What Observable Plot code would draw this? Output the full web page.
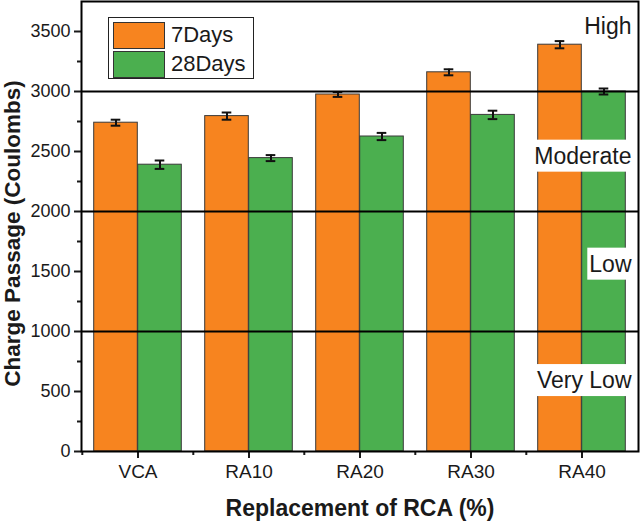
<!DOCTYPE html>
<html>
<head>
<meta charset="utf-8">
<script src="https://cdn.jsdelivr.net/npm/d3@7"></script>
<script src="https://cdn.jsdelivr.net/npm/@observablehq/plot@0.6"></script>
<style>
  html, body { margin: 0; padding: 0; background: #fff; }
  #wrap { position: relative; width: 640px; height: 523px; font-family: "Liberation Sans", Arial, sans-serif; }
  #legend { position: absolute; left: 108px; top: 17px; width: 144px; height: 60px; border: 1px solid #222; background: #fff; z-index: 2; }
  .lrow { position: absolute; left: 4px; height: 26px; display: flex; align-items: center; }
  .sw { width: 50px; height: 25px; border: 1px solid #333; margin-right: 6px; }
  .lt { font-size: 22px; color: #1a1a1a; }
</style>
</head>
<body>
<div id="wrap"><div id="legend"></div></div>
<script>
const categories = ["VCA", "RA10", "RA20", "RA30", "RA40"];
const days7 = [2740, 2795, 2975, 3160, 3390];
const days28 = [2390, 2445, 2625, 2805, 3000];
const err7 = [25, 30, 20, 25, 30];
const err28 = [35, 25, 30, 35, 25];
const seriesNames = ["7Days", "28Days"];
const seriesColors = ["#F7841F", "#4BAF4F"];
const yTicks = [0, 500, 1000, 1500, 2000, 2500, 3000, 3500];
const yMinorTicks = [250, 750, 1250, 1750, 2250, 2750, 3250];
const zoneLines = [1000, 2000, 3000];
const zoneLabels = ["Very Low", "Low", "Moderate", "High"];
const zoneLabelY = [590, 1560, 2460, 3540];

const W = 640, H = 523, mL = 81, mR = 2, mT = 1, mB = 72;
const bw = (W - mL - mR) / categories.length;
const half = bw / 2;
const barW = 44;
const outer = half - barW;
const capHalf = 5;

const rows7 = categories.map((c, i) => ({cat: c, v: days7[i], e: err7[i]}));
const rows28 = categories.map((c, i) => ({cat: c, v: days28[i], e: err28[i]}));
const zones = zoneLabels.map((t, i) => ({t, y: zoneLabelY[i]}));

const chart = Plot.plot({
  width: W, height: H,
  marginLeft: mL, marginRight: mR, marginTop: mT, marginBottom: mB,
  style: {fontFamily: '"Liberation Sans", Arial, sans-serif', color: "#1a1a1a", background: "#fff"},
  x: {type: "band", domain: categories, padding: 0},
  y: {domain: [0, 3750]},
  marks: [
    Plot.barY(rows7, {x: "cat", y: "v", fill: seriesColors[0], stroke: "#3a3a3a", strokeWidth: 1, insetLeft: outer, insetRight: half}),
    Plot.barY(rows28, {x: "cat", y: "v", fill: seriesColors[1], stroke: "#3a3a3a", strokeWidth: 1, insetLeft: half, insetRight: outer}),
    Plot.ruleX(rows7, {x: "cat", y1: d => d.v - d.e, y2: d => d.v + d.e, dx: -barW / 2, stroke: "#111", strokeWidth: 2}),
    Plot.ruleX(rows28, {x: "cat", y1: d => d.v - d.e, y2: d => d.v + d.e, dx: barW / 2, stroke: "#111", strokeWidth: 2}),
    Plot.tickY(rows7, {x: "cat", y: d => d.v - d.e, stroke: "#111", strokeWidth: 2, insetLeft: half - barW / 2 - capHalf, insetRight: half + barW / 2 - capHalf}),
    Plot.tickY(rows7, {x: "cat", y: d => d.v + d.e, stroke: "#111", strokeWidth: 2, insetLeft: half - barW / 2 - capHalf, insetRight: half + barW / 2 - capHalf}),
    Plot.tickY(rows28, {x: "cat", y: d => d.v - d.e, stroke: "#111", strokeWidth: 2, insetLeft: half + barW / 2 - capHalf, insetRight: half - barW / 2 - capHalf}),
    Plot.tickY(rows28, {x: "cat", y: d => d.v + d.e, stroke: "#111", strokeWidth: 2, insetLeft: half + barW / 2 - capHalf, insetRight: half - barW / 2 - capHalf}),
    Plot.ruleY(zoneLines, {stroke: "#000", strokeWidth: 2}),
    Plot.text(zones, {y: "y", text: "t", frameAnchor: "right", dx: -7, textAnchor: "end", fontSize: 23, fill: "#1a1a1a"}),
    Plot.axisY(yTicks, {tickSize: 7, tickPadding: 4, fontSize: 18, strokeWidth: 2, tickFormat: d => String(d), label: null}),
    Plot.axisY(yMinorTicks, {tickSize: 4, strokeWidth: 2, tickFormat: () => "", label: null}),
    Plot.axisX(categories, {tickSize: 7, tickPadding: 6, fontSize: 19, strokeWidth: 2, label: null}),
    Plot.axisX(categories, {tickSize: 4, strokeWidth: 2, dx: -half, tickFormat: () => "", label: null}),
    Plot.text(["Charge Passage (Coulombs)"], {frameAnchor: "left", dx: -69, dy: 7, rotate: -90, fontSize: 22.5, fontWeight: "bold", fill: "#1a1a1a", textAnchor: "middle", lineAnchor: "middle"}),
    Plot.text(["Replacement of RCA (%)"], {frameAnchor: "bottom", dy: 57, fontSize: 23, fontWeight: "bold", fill: "#1a1a1a", textAnchor: "middle", lineAnchor: "middle"}),
    Plot.frame({stroke: "#000", strokeWidth: 2})
  ]
});

const wrap = document.getElementById("wrap");
chart.style.position = "absolute";
chart.style.left = "0";
chart.style.top = "0";
wrap.insertBefore(chart, wrap.firstChild);

// white boxes behind zone labels
Array.from(chart.querySelectorAll("text"))
  .filter(t => zoneLabels.includes(t.textContent.trim()))
  .forEach(t => {
    const b = t.getBBox();
    const r = document.createElementNS("http://www.w3.org/2000/svg", "rect");
    r.setAttribute("x", b.x - 2);
    r.setAttribute("y", b.y - 3);
    r.setAttribute("width", b.width + 4);
    r.setAttribute("height", b.height + 6);
    r.setAttribute("fill", "#fff");
    r.setAttribute("stroke", "none");
    const tr = t.getAttribute("transform");
    if (tr) r.setAttribute("transform", tr);
    t.parentNode.insertBefore(r, t);
  });

// legend
const legend = document.getElementById("legend");
seriesNames.forEach((name, i) => {
  const row = document.createElement("div");
  row.className = "lrow";
  row.style.top = (4 + i * 29) + "px";
  const sw = document.createElement("div");
  sw.className = "sw";
  sw.style.background = seriesColors[i];
  const lt = document.createElement("span");
  lt.className = "lt";
  lt.textContent = name;
  row.appendChild(sw);
  row.appendChild(lt);
  legend.appendChild(row);
});
</script>
</body>
</html>
